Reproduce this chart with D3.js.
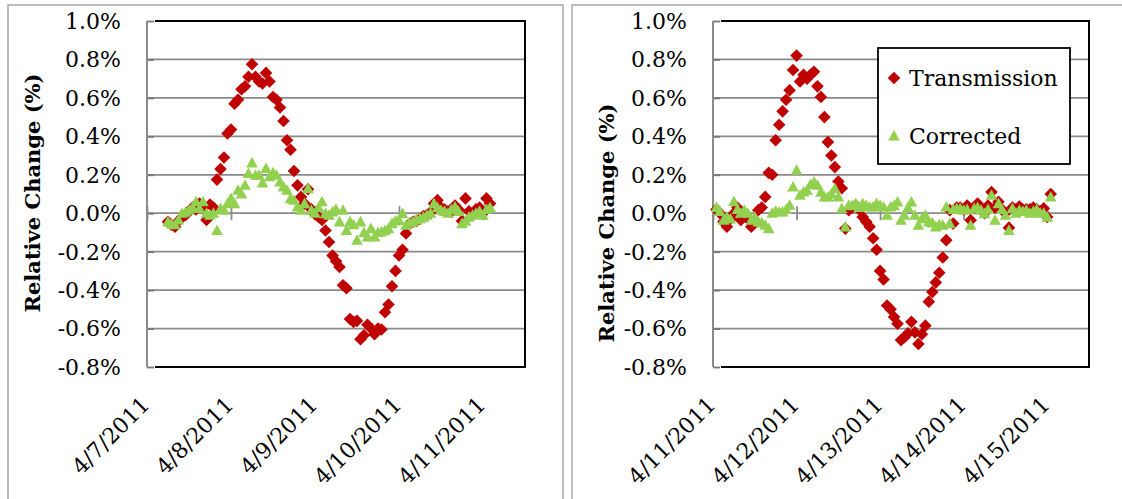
<!DOCTYPE html>
<html><head><meta charset="utf-8">
<script src="https://cdn.jsdelivr.net/npm/d3@7"></script>
<style>
html,body{margin:0;padding:0;background:#fff;}
svg{display:block;}
text{font-family:"DejaVu Serif", serif;fill:#000;}
</style></head><body>
<svg id="chart" width="1122" height="499"></svg>
<script>
// ---------- data ----------
const yTickValues = [-0.8, -0.6, -0.4, -0.2, 0.0, 0.2, 0.4, 0.6, 0.8, 1.0];
const seriesNames = ["Transmission", "Corrected"];
const yTitle = "Relative Change (%)";

const leftDayLabels = ["4/7/2011", "4/8/2011", "4/9/2011", "4/10/2011", "4/11/2011"];
const rightDayLabels = ["4/11/2011", "4/12/2011", "4/13/2011", "4/14/2011", "4/15/2011"];

// hourly samples; first sample time of each panel
const leftFirstSample = "2011-04-07T06:00:00";
const rightFirstSample = "2011-04-11T01:00:00";

const leftTransmission = [
 -0.045,-0.06,-0.07,-0.04,-0.02,-0.01,0.01,0.03,0.02,0.05,
 0.03,-0.035,0.045,0.03,0.175,0.23,0.29,0.415,0.435,0.57,
 0.59,0.645,0.66,0.71,0.775,0.71,0.685,0.675,0.73,0.685,
 0.605,0.59,0.55,0.48,0.38,0.33,0.22,0.145,0.085,0.05,
 0.125,0.02,-0.005,-0.02,-0.035,-0.09,-0.15,-0.22,-0.25,-0.28,
 -0.375,-0.39,-0.55,-0.565,-0.56,-0.655,-0.635,-0.58,-0.6,-0.63,
 -0.6,-0.605,-0.515,-0.475,-0.38,-0.3,-0.22,-0.19,-0.105,-0.055,
 -0.045,-0.04,-0.03,-0.015,-0.01,0.005,0.05,0.068,0.03,0.02,
 0.01,0.007,0.04,0.02,-0.04,0.077,0.01,0.0,0.02,0.03,
 0.0,0.077,0.05
];
const leftCorrected = [
 -0.045,-0.055,-0.06,-0.035,0.0,0.005,0.016,0.03,0.06,0.025,
 0.06,0.0,-0.01,0.0,-0.09,0.024,0.016,0.05,0.076,0.05,
 0.12,0.1,0.146,0.207,0.262,0.198,0.198,0.158,0.233,0.19,
 0.21,0.198,0.163,0.137,0.12,0.076,0.068,0.033,0.016,0.05,
 0.128,0.016,0.0,0.03,0.06,-0.002,-0.01,0.007,0.02,-0.045,
 0.016,-0.089,-0.045,-0.06,-0.14,-0.045,-0.1,-0.123,-0.08,-0.123,
 -0.1,-0.097,-0.09,-0.08,-0.054,-0.04,-0.036,-0.002,-0.0625,-0.05,
 -0.045,-0.035,-0.028,-0.02,-0.01,0.0,0.05,0.03,0.016,0.01,
 0.0,0.02,0.033,0.01,-0.054,-0.04,-0.02,-0.01,0.0,0.01,
 -0.01,0.02,0.03
];
const rightTransmission = [
 0.02,0.0,-0.045,-0.07,-0.03,0.0,0.03,-0.035,-0.01,-0.03,
 -0.07,-0.04,0.016,0.03,0.085,0.21,0.2,0.38,0.46,0.53,
 0.59,0.64,0.745,0.82,0.685,0.72,0.70,0.72,0.736,0.66,
 0.605,0.50,0.37,0.30,0.24,0.165,0.13,-0.08,0.016,0.03,
 0.04,0.02,-0.02,-0.045,-0.07,-0.13,-0.19,-0.30,-0.345,-0.48,
 -0.5,-0.54,-0.575,-0.66,-0.645,-0.625,-0.565,-0.62,-0.68,-0.63,
 -0.585,-0.46,-0.41,-0.36,-0.31,-0.23,-0.14,0.016,-0.054,0.03,
 0.03,0.02,0.04,-0.036,0.03,0.05,0.02,0.0,0.04,0.11,
 0.03,0.06,0.02,0.0,-0.075,0.03,0.02,0.035,0.02,0.02,
 0.02,0.03,0.02,0.01,0.025,-0.02,0.1
];
const rightCorrected = [
 0.03,0.01,-0.036,-0.02,-0.03,0.06,0.02,0.0,0.016,0.0,
 -0.036,-0.02,-0.045,-0.05,-0.062,-0.08,0.0,0.01,0.007,0.007,
 0.02,0.042,0.137,0.224,0.094,0.111,0.12,0.15,0.163,0.146,
 0.11,0.085,0.085,0.1,0.128,0.085,0.024,-0.071,0.042,0.04,
 0.05,0.03,0.05,0.04,0.033,0.033,0.05,0.04,0.033,-0.01,
 0.033,0.04,0.059,-0.036,-0.01,0.03,0.059,-0.01,-0.062,-0.028,
 -0.01,-0.045,-0.05,-0.071,-0.06,-0.062,0.033,-0.054,0.02,0.024,
 0.024,0.016,0.02,-0.062,0.024,0.03,0.016,-0.002,0.02,0.094,
 -0.036,0.05,0.02,-0.01,-0.089,0.024,0.0,0.016,0.01,0.016,
 0.0,0.01,0.02,0.0,0.0,-0.02,0.085
];

// ---------- drawing ----------
const svg = d3.select("#chart");
const RED = "#C00000", GREEN = "#92D050", GRID = "#8a8a8a";
const HOUR = 3600 * 1000;
const diamond = "M0,-6.3L6.3,0L0,6.3L-6.3,0Z";
const triangle = "M0,-6L5.8,4.6L-5.8,4.6Z";

const panels = [
  { frameX: 8, frameW: 555, x0: 147, x1: 525, start: new Date(2011, 3, 7), labels: leftDayLabels,
    first: leftFirstSample, red: leftTransmission, green: leftCorrected, titleX: 33, titleY: 193, labelX: 121, legend: false },
  { frameX: 572, frameW: 570, x0: 713, x1: 1089, start: new Date(2011, 3, 11), labels: rightDayLabels,
    first: rightFirstSample, red: rightTransmission, green: rightCorrected, titleX: 607, titleY: 223, labelX: 687, legend: true }
];

const y = d3.scaleLinear().domain([-0.8, 1.0]).range([367, 21]);

panels.forEach(p => {
  const g = svg.append("g");
  // outer chart frame
  g.append("rect").attr("x", p.frameX).attr("y", 5).attr("width", p.frameW).attr("height", 520)
    .attr("fill", "none").attr("stroke", "#a8a8a8").attr("stroke-width", 1.5);

  const end = new Date(p.start.getTime() + 108 * HOUR);
  const x = d3.scaleTime().domain([p.start, end]).range([p.x0, p.x1]);
  const dayDates = p.labels.map((_, i) => new Date(p.start.getTime() + i * 24 * HOUR));

  // gridlines
  g.append("g").selectAll("line").data(yTickValues.filter(v => v > -0.8 && v < 1.0)).join("line")
    .attr("x1", p.x0).attr("x2", p.x1).attr("y1", d => y(d)).attr("y2", d => y(d))
    .attr("stroke", GRID).attr("stroke-width", 1.8);

  // y axis (left, grey)
  const yAxis = d3.axisRight(y).tickValues(yTickValues).tickSize(7).tickFormat("");
  const ya = g.append("g").attr("transform", `translate(${p.x0},0)`).call(yAxis);
  ya.select(".domain").remove();
  ya.selectAll(".tick line").attr("stroke", "#777").attr("stroke-width", 1.8);
  g.append("line").attr("x1", p.x0).attr("x2", p.x0).attr("y1", y(1.0)).attr("y2", y(-0.8))
    .attr("stroke", GRID).attr("stroke-width", 2);

  // plot border top/right/bottom (black)
  g.append("path").attr("d", `M${p.x0 + 8},${y(1.0)}H${p.x1}V${y(-0.8)}H${p.x0 + 8}`)
    .attr("fill", "none").attr("stroke", "#000").attr("stroke-width", 2);

  // y tick labels
  g.append("g").selectAll("text").data(yTickValues).join("text")
    .attr("x", p.labelX).attr("y", d => y(d)).attr("dy", "0.36em")
    .attr("text-anchor", "end").style("font-size", "22px")
    .text(d => d.toFixed(1) + "%");

  // x axis crossing at zero: cross ticks
  const xa = d3.axisBottom(x).tickValues(dayDates).tickSize(7).tickFormat("");
  const xg = g.append("g").attr("transform", `translate(0,${y(0)})`).call(xa);
  xg.select(".domain").remove();
  xg.selectAll(".tick line").attr("y1", -7).attr("y2", 7).attr("stroke", GRID).attr("stroke-width", 1.8);

  // x labels (at bottom, rotated)
  g.append("g").selectAll("text").data(dayDates).join("text")
    .attr("transform", (d) => `translate(${x(d) + 4},406) rotate(-45)`)
    .attr("text-anchor", "end").style("font-size", "22px")
    .text((d, i) => p.labels[i]);

  // y title
  g.append("text").attr("transform", `translate(${p.titleX},${p.titleY}) rotate(-90)`)
    .attr("text-anchor", "middle").attr("dy", "0.35em")
    .style("font-size", "21px").style("font-weight", "bold").text(yTitle);

  // points
  const t0 = new Date(p.first).getTime();
  const pts = (arr) => arr.map((v, i) => ({ t: new Date(t0 + i * HOUR), v }));
  g.append("g").selectAll("path").data(pts(p.red)).join("path")
    .attr("d", diamond).attr("fill", RED)
    .attr("transform", d => `translate(${x(d.t)},${y(d.v)})`);
  g.append("g").selectAll("path").data(pts(p.green)).join("path")
    .attr("d", triangle).attr("fill", GREEN)
    .attr("transform", d => `translate(${x(d.t)},${y(d.v)})`);

  if (p.legend) {
    const lg = g.append("g");
    lg.append("rect").attr("x", 878).attr("y", 48).attr("width", 192).attr("height", 116)
      .attr("fill", "#fff").attr("stroke", "#000").attr("stroke-width", 1.8);
    lg.append("path").attr("d", diamond).attr("fill", RED).attr("transform", "translate(894,78)");
    lg.append("text").attr("x", 909).attr("y", 86).style("font-size", "22px").text(seriesNames[0]);
    lg.append("path").attr("d", triangle).attr("fill", GREEN).attr("transform", "translate(894,136)");
    lg.append("text").attr("x", 909).attr("y", 144).style("font-size", "22px").text(seriesNames[1]);
  }
});
</script>
</body></html>
